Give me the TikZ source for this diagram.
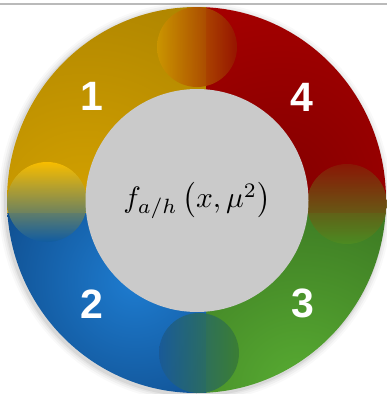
\documentclass[tikz,border=0pt]{standalone}
\usepackage{fontspec}
\newfontfamily\digitfont{Liberation Sans}
\usetikzlibrary{positioning,calc}

\definecolor{golddark}{RGB}{158,120,0}
\definecolor{goldlight}{RGB}{212,162,0}
\definecolor{reddark}{RGB}{132,0,0}
\definecolor{redlight}{RGB}{188,0,0}
\definecolor{greendark}{RGB}{40,84,24}
\definecolor{greenlight}{RGB}{88,172,50}
\definecolor{bluedark}{RGB}{8,54,108}
\definecolor{bluelight}{RGB}{30,124,208}
\definecolor{coregray}{RGB}{202,202,202}

\begin{document}
\begin{tikzpicture}[
    x=1pt, y=-1pt,
    bead/.style={circle, minimum size=80pt, inner sep=0pt, opacity=0.92},
    core/.style={circle, fill=coregray, minimum size=223pt, inner sep=0pt},
    number/.style={font=\digitfont\bfseries\fontsize{41}{41}\selectfont, text=white}
]
\useasboundingbox (0,0) rectangle (387,394);

% Top rule
\draw[line width=2pt, draw=black!27] (0,3.7) -- (387,3.7);

% Soft shadow under the ring
\foreach \r/\o in {7/0.025, 5/0.035, 3/0.045, 1.5/0.06} {
    \fill[black, opacity=\o] (195,202) ellipse ({189.5pt+\r pt} and {193pt+\r pt});
}

% Ring quadrants
\begin{scope}
\clip (196.5,200) ellipse (189.5pt and 193pt);
\begin{scope}
\clip (0,0) rectangle (206,213);
\shade[inner color=goldlight, outer color=golddark] (85,215) circle (340pt);
\end{scope}
\begin{scope}
\clip (206,0) rectangle (387,213);
\shade[inner color=reddark, outer color=redlight] (280,185) circle (320pt);
\end{scope}
\begin{scope}
\clip (206,213) rectangle (387,394);
\shade[inner color=greenlight, outer color=greendark] (300,390) circle (340pt);
\end{scope}
\begin{scope}
\clip (0,213) rectangle (206,394);
\shade[inner color=bluelight, outer color=bluedark] (135,280) circle (230pt);
\end{scope}
\end{scope}

% Beads between quadrants
\node[bead, left color={rgb,255:red,204;green,150;blue,0}, right color={rgb,255:red,150;green,22;blue,0}] (beadtop) at (197,47) {};
\node[bead, top color={rgb,255:red,252;green,192;blue,0}, bottom color={rgb,255:red,16;green,92;blue,162}] (beadleft) at (47,202) {};
\node[bead, top color={rgb,255:red,138;green,26;blue,6}, bottom color={rgb,255:red,76;green,140;blue,34}] (beadright) at (347,204) {};
\node[bead, left color={rgb,255:red,26;green,90;blue,150}, right color={rgb,255:red,58;green,124;blue,52}] (beadbottom) at (199,353) {};

% Centre
\node[core] (pdf) at (197,200.5) {\scalebox{2.95}{$f_{a/h}\left(x,\mu^2\right)$}};

% Quadrant numbers
\node[number] (one) at (92,96) {1};
\node[number] (four) at (302,97) {4};
\node[number] (two) at (92,304) {2};
\node[number] (three) at (303,303) {3};

\end{tikzpicture}
\end{document}
